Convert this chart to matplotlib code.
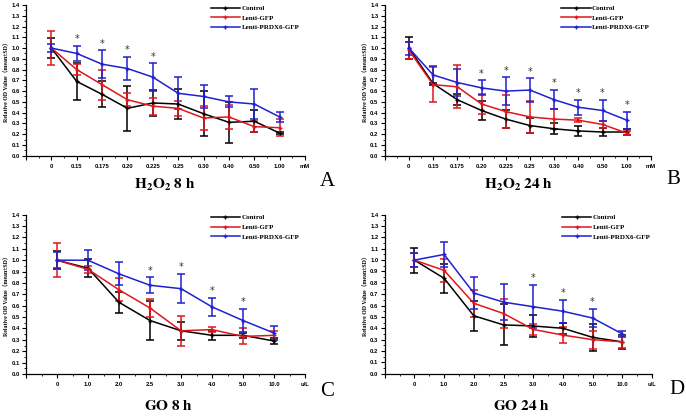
import matplotlib
matplotlib.use("Agg")
import matplotlib.pyplot as plt
from matplotlib.ticker import MultipleLocator, FixedLocator
from matplotlib.lines import Line2D
import numpy as np

plt.rcParams['mathtext.fontset'] = 'stix'

series_names = ["Control", "Lenti-GFP", "Lenti-PRDX6-GFP"]
colors = ["black", "#e0161c", "#2020d0"]

# Panel A: H2O2 8 h
a_cats = ["0", "0.15", "0.175", "0.20", "0.225", "0.25", "0.30", "0.40", "0.50", "1.00"]
a_ctrl = [1.00, 0.69, 0.57, 0.44, 0.49, 0.48, 0.39, 0.31, 0.32, 0.21]
a_ctrl_sd = [0.09, 0.17, 0.12, 0.21, 0.12, 0.14, 0.21, 0.19, 0.10, 0.01]
a_gfp = [1.00, 0.80, 0.66, 0.52, 0.46, 0.44, 0.35, 0.36, 0.27, 0.26]
a_gfp_sd = [0.16, 0.05, 0.14, 0.06, 0.08, 0.07, 0.11, 0.11, 0.05, 0.08]
a_prdx = [1.00, 0.95, 0.85, 0.81, 0.73, 0.58, 0.55, 0.50, 0.48, 0.36]
a_prdx_sd = [0.04, 0.07, 0.13, 0.11, 0.13, 0.15, 0.11, 0.05, 0.14, 0.05]
a_stars = [1, 2, 3, 4]

# Panel B: H2O2 24 h
b_cats = ["0", "0.15", "0.175", "0.20", "0.225", "0.25", "0.30", "0.40", "0.50", "1.00"]
b_ctrl = [1.00, 0.67, 0.52, 0.42, 0.34, 0.28, 0.25, 0.23, 0.22, 0.22]
b_ctrl_sd = [0.10, 0.01, 0.05, 0.09, 0.08, 0.07, 0.05, 0.05, 0.04, 0.03]
b_gfp = [0.98, 0.66, 0.64, 0.48, 0.41, 0.36, 0.34, 0.33, 0.29, 0.21]
b_gfp_sd = [0.08, 0.16, 0.20, 0.09, 0.15, 0.15, 0.09, 0.02, 0.03, 0.02]
b_prdx = [1.00, 0.75, 0.68, 0.63, 0.60, 0.61, 0.52, 0.45, 0.42, 0.33]
b_prdx_sd = [0.06, 0.08, 0.13, 0.07, 0.13, 0.11, 0.09, 0.07, 0.10, 0.08]
b_stars = [3, 4, 5, 6, 7, 8, 9]

# Panel C: GO 8 h
c_cats = ["0", "1.0", "2.0", "2.5", "3.0", "4.0", "5.0", "10.0"]
c_ctrl = [1.00, 0.93, 0.63, 0.47, 0.38, 0.34, 0.34, 0.29]
c_ctrl_sd = [0.08, 0.08, 0.09, 0.17, 0.08, 0.04, 0.02, 0.03]
c_gfp = [1.00, 0.92, 0.74, 0.58, 0.38, 0.39, 0.33, 0.34]
c_gfp_sd = [0.15, 0.03, 0.10, 0.08, 0.13, 0.02, 0.07, 0.04]
c_prdx = [1.00, 1.00, 0.88, 0.78, 0.75, 0.59, 0.47, 0.36]
c_prdx_sd = [0.07, 0.09, 0.10, 0.07, 0.13, 0.08, 0.10, 0.06]
c_stars = [3, 4, 5, 6]

# Panel D: GO 24 h
d_cats = ["0", "1.0", "2.0", "2.5", "3.0", "4.0", "5.0", "10.0"]
d_ctrl = [1.00, 0.84, 0.51, 0.43, 0.42, 0.40, 0.32, 0.28]
d_ctrl_sd = [0.11, 0.13, 0.13, 0.18, 0.10, 0.05, 0.12, 0.06]
d_gfp = [1.00, 0.91, 0.62, 0.53, 0.39, 0.34, 0.30, 0.28]
d_gfp_sd = [0.06, 0.10, 0.12, 0.13, 0.05, 0.07, 0.08, 0.05]
d_prdx = [1.00, 1.05, 0.71, 0.63, 0.59, 0.55, 0.49, 0.35]
d_prdx_sd = [0.06, 0.11, 0.14, 0.16, 0.19, 0.10, 0.08, 0.03]
d_stars = [4, 5, 6]

W, H = 686, 416
fig = plt.figure(figsize=(W / 100, H / 100), dpi=100)


def px_rect(l, r, t, b):
    return [l / W, 1 - b / H, (r - l) / W, (b - t) / H]


panels = [
    dict(rect=px_rect(26, 305, 5, 155.7), cats=a_cats, unit="mM",
         data=[(a_ctrl, a_ctrl_sd), (a_gfp, a_gfp_sd), (a_prdx, a_prdx_sd)], stars=a_stars,
         title=r"$\mathbf{H_2O_2\ 8\ h}$", tpos=(165, 185), letter="A", lpos=(327, 182)),
    dict(rect=px_rect(384.7, 651, 5, 155.7), cats=b_cats, unit="mM",
         data=[(b_ctrl, b_ctrl_sd), (b_gfp, b_gfp_sd), (b_prdx, b_prdx_sd)], stars=b_stars,
         title=r"$\mathbf{H_2O_2\ 24\ h}$", tpos=(519, 185), letter="B", lpos=(673, 180)),
    dict(rect=px_rect(26, 305, 214.7, 374), cats=c_cats, unit="u/L",
         data=[(c_ctrl, c_ctrl_sd), (c_gfp, c_gfp_sd), (c_prdx, c_prdx_sd)], stars=c_stars,
         title=r"$\mathbf{GO\ 8\ h}$", tpos=(168, 406), letter="C", lpos=(327, 392)),
    dict(rect=px_rect(384.7, 652, 214.7, 373.7), cats=d_cats, unit="u/L",
         data=[(d_ctrl, d_ctrl_sd), (d_gfp, d_gfp_sd), (d_prdx, d_prdx_sd)], stars=d_stars,
         title=r"$\mathbf{GO\ 24\ h}$", tpos=(521, 406), letter="D", lpos=(677, 390)),
]

tick_font = dict(family="Liberation Sans", weight="bold", size=4.2)

for p in panels:
    ax = fig.add_axes(p["rect"])
    n = len(p["cats"])
    x = np.arange(1, n + 1)
    handles = []
    for (vals, sd), name, col in zip(p["data"], series_names, colors):
        ax.errorbar(x, vals, yerr=sd, color=col, lw=1.1, elinewidth=1.1,
                    capsize=3, capthick=1.1, marker="+", ms=3)
        handles.append(Line2D([], [], color=col, lw=1.1, marker="+", ms=3, label=name))
    prdx, prdx_sd = p["data"][2]
    for i in p["stars"]:
        ax.text(x[i], prdx[i] + prdx_sd[i] + 0.015, "*", ha="center", va="bottom",
                fontsize=7, color="#333333")
    ax.set_xlim(0, n + 1)
    ax.set_ylim(0, 1.4)
    ax.xaxis.set_major_locator(FixedLocator(np.arange(0, n + 2)))
    ax.xaxis.set_minor_locator(FixedLocator(np.arange(0.5, n + 1.5, 1.0)))
    ax.set_xticklabels([""] + list(p["cats"]) + [p["unit"]], fontdict=tick_font)
    ax.yaxis.set_minor_locator(MultipleLocator(0.05))
    ax.set_yticks(np.round(np.arange(0, 1.41, 0.1), 1))
    ax.set_yticklabels(["%.1f" % v for v in np.arange(0, 1.41, 0.1)], fontdict=tick_font)
    ax.tick_params(which="major", direction="out", length=3, width=0.8, pad=1.5)
    ax.tick_params(which="minor", direction="out", length=1.5, width=0.6)
    ax.tick_params(axis="x", pad=3)
    for s in ["top", "right"]:
        ax.spines[s].set_visible(False)
    for s in ["left", "bottom"]:
        ax.spines[s].set_linewidth(0.9)
    ax.set_ylabel("Relative OD Value（mean±SD）", fontsize=4.2,
                  family=["Liberation Serif", "Noto Sans CJK SC"], weight="bold", labelpad=2)
    ax.legend(handles=handles, loc="upper left", bbox_to_anchor=(0.64, 1.04),
              frameon=False, handlelength=4.2, handletextpad=0.2, labelspacing=0.55,
              prop=dict(family="Liberation Serif", weight="bold", size=5))
    fig.text(p["tpos"][0] / W, 1 - p["tpos"][1] / H, p["title"], ha="center", va="center",
             fontsize=11)
    fig.text(p["lpos"][0] / W, 1 - p["lpos"][1] / H, p["letter"], ha="center", va="center",
             fontsize=15, family="Liberation Serif")

fig.savefig("out.png", dpi=100)
